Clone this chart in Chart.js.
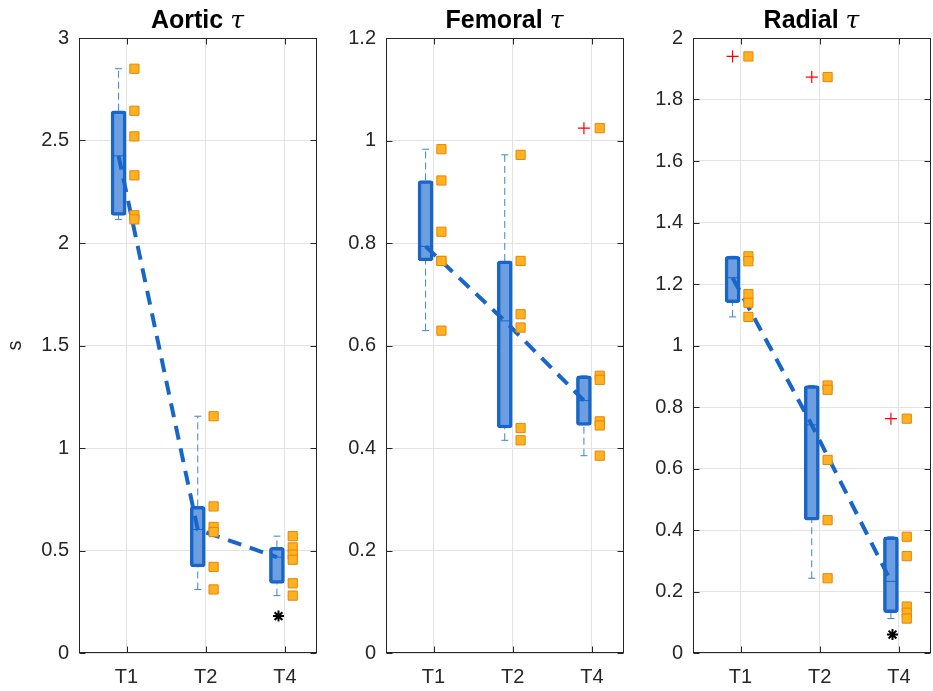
<!DOCTYPE html>
<html>
<head>
<meta charset="utf-8">
<script src="https://cdn.jsdelivr.net/npm/chart.js@4.4.1/dist/chart.umd.min.js"></script>
<style>
  body { margin: 0; background: #fff; width: 933px; height: 691px; overflow: hidden; position: relative; }
  canvas { position: absolute; top: 0; }
  .ttl { position: absolute; top: 5px; width: 237px; text-align: center; line-height: 30px;
         font: bold 25px "Liberation Sans", Arial, sans-serif; color: #000; }
  .ttl i { font: italic 25px "DejaVu Serif", serif; }
</style>
</head>
<body>
<canvas id="aortic" width="324" height="691" style="left:0px"></canvas>
<canvas id="femoral" width="324" height="691" style="left:307px"></canvas>
<canvas id="radial" width="324" height="691" style="left:614px"></canvas>
<div class="ttl" style="left:79px">Aortic <i>τ</i></div>
<div class="ttl" style="left:386px">Femoral <i>τ</i></div>
<div class="ttl" style="left:693px">Radial <i>τ</i></div>
<script>
const groups = ["T1", "T2", "T4"];

// individual values (s)
const aorticT1 = [2.85, 2.645, 2.52, 2.33, 2.135, 2.115];
const aorticT2 = [1.155, 0.715, 0.615, 0.59, 0.42, 0.31];
const aorticT4 = [0.57, 0.515, 0.48, 0.455, 0.34, 0.28];
const femoralT1 = [0.983, 0.922, 0.822, 0.765, 0.765, 0.629];
const femoralT2 = [0.972, 0.765, 0.661, 0.635, 0.439, 0.415];
const femoralT4 = [1.024, 0.541, 0.533, 0.452, 0.444, 0.385];
const radialT1 = [1.94, 1.29, 1.274, 1.167, 1.139, 1.093];
const radialT2 = [1.873, 0.87, 0.856, 0.628, 0.432, 0.243];
const radialT4 = [0.762, 0.378, 0.315, 0.151, 0.131, 0.112];

// significance marks (*) under a group, null = none
const aorticStars = [null, null, 0.18];
const femoralStars = [null, null, null];
const radialStars = [null, null, 0.06];

const boxEdge = "#1866c9";
const boxFill = "#6d9fe0";
const whiskerCol = "#3b83dc";

// MATLAB style quantile
function quantile(sorted, p) {
  const n = sorted.length;
  const pos = n * p + 0.5;
  if (pos <= 1) return sorted[0];
  if (pos >= n) return sorted[n - 1];
  const lo = Math.floor(pos), f = pos - lo;
  return sorted[lo - 1] + f * (sorted[lo] - sorted[lo - 1]);
}

function boxStats(vals) {
  const s = vals.slice().sort((a, b) => a - b);
  const q1 = quantile(s, 0.25), med = quantile(s, 0.5), q3 = quantile(s, 0.75);
  const iqr = q3 - q1;
  const inside = s.filter(v => v >= q1 - 1.5 * iqr && v <= q3 + 1.5 * iqr);
  return {
    q1, med, q3,
    lo: inside[0], hi: inside[inside.length - 1],
    out: s.filter(v => v < q1 - 1.5 * iqr || v > q3 + 1.5 * iqr)
  };
}

const framePlugin = {
  id: "frame",
  afterDraw(chart) {
    const { ctx, chartArea: a, scales } = chart;
    const l = Math.round(a.left) + 0.5, r = Math.round(a.right) - 0.5;
    const t = Math.round(a.top) + 0.5, b = Math.round(a.bottom) - 0.5;
    ctx.save();
    ctx.strokeStyle = "#262626";
    ctx.lineWidth = 1;
    ctx.strokeRect(l, t, r - l, b - t);
    ctx.beginPath();
    scales.x.ticks.forEach((tk, i) => {
      const x = Math.round(scales.x.getPixelForTick(i)) + 0.5;
      ctx.moveTo(x, b); ctx.lineTo(x, b - 6);
      ctx.moveTo(x, t); ctx.lineTo(x, t + 6);
    });
    scales.y.ticks.forEach((tk, i) => {
      const y = Math.round(scales.y.getPixelForTick(i)) + 0.5;
      ctx.moveTo(l, y); ctx.lineTo(l + 6, y);
      ctx.moveTo(r, y); ctx.lineTo(r - 6, y);
    });
    ctx.stroke();
    ctx.restore();
  }
};

function makePanel(id, series, yMax, yStep, stars, yTitle) {
  const stats = series.map(boxStats);
  const bx = i => i + 1 - 0.1;   // box position
  const px = i => i + 1 + 0.1;   // raw points position

  new Chart(document.getElementById(id), {
    type: "bar",
    data: {
      datasets: [
        {
          type: "line",
          data: stats.flatMap((s, i) => [
            { x: bx(i), y: s.lo }, { x: bx(i), y: s.q1 }, { x: bx(i), y: null },
            { x: bx(i), y: s.q3 }, { x: bx(i), y: s.hi }, { x: bx(i), y: null }
          ]),
          borderColor: whiskerCol,
          borderWidth: 1,
          borderDash: [7, 4],
          pointRadius: 0,
          spanGaps: false,
          order: 6
        },
        {
          type: "scatter",
          data: stats.flatMap((s, i) => [{ x: bx(i), y: s.lo }, { x: bx(i), y: s.hi }]),
          pointStyle: "line",
          pointRadius: 3.5,
          borderColor: whiskerCol,
          borderWidth: 1,
          order: 6
        },
        {
          type: "bar",
          data: stats.map((s, i) => ({ x: bx(i), y: [s.q1, s.q3] })),
          backgroundColor: boxFill,
          borderColor: boxEdge,
          borderWidth: 3.5,
          borderSkipped: false,
          borderRadius: 3,
          barThickness: 15,
          order: 5
        },
        {
          type: "line",
          data: stats.flatMap((s, i) => [
            { x: bx(i) - 0.08, y: s.med }, { x: bx(i) + 0.08, y: s.med }, { x: bx(i), y: null }
          ]),
          borderColor: boxEdge,
          borderWidth: 1,
          pointRadius: 0,
          spanGaps: false,
          order: 4
        },
        {
          type: "line",
          data: stats.map((s, i) => ({ x: bx(i), y: s.med })),
          borderColor: boxEdge,
          borderWidth: 4,
          borderDash: [14, 9],
          pointRadius: 0,
          order: 3
        },
        {
          type: "scatter",
          data: series.flatMap((vals, i) => vals.map(v => ({ x: px(i), y: v }))),
          pointStyle: "rect",
          pointRadius: 6.5,
          backgroundColor: "#ffb120",
          borderColor: "#e5850a",
          borderWidth: 1,
          order: 2
        },
        {
          type: "scatter",
          data: stats.flatMap((s, i) => s.out.map(v => ({ x: bx(i), y: v }))),
          pointStyle: "cross",
          pointRadius: 6,
          borderColor: "#ff0000",
          borderWidth: 1.2,
          order: 1
        },
        {
          type: "scatter",
          data: stars.map((v, i) => ({ x: bx(i) + 0.02, y: v })).filter(p => p.y !== null),
          pointStyle: "star",
          pointRadius: 5.5,
          borderColor: "#000",
          borderWidth: 2,
          order: 1
        }
      ]
    },
    options: {
      responsive: false,
      devicePixelRatio: 1,
      animation: false,
      events: [],
      layout: { padding: { top: 38, right: 3, left: 0, bottom: 0 } },
      scales: {
        x: {
          type: "linear",
          min: 0.4,
          max: 3.4,
          offset: false,
          afterBuildTicks: s => { s.ticks = groups.map((g, i) => ({ value: i + 1 })); },
          afterFit: s => { s.height = 38; s.paddingLeft = 0; s.paddingRight = 0; },
          ticks: {
            callback: (v, i) => groups[i],
            font: { family: "Liberation Sans", size: 20 },
            color: "#262626",
            padding: 12,
            maxRotation: 0
          },
          grid: { color: "#e3e3e3", drawTicks: false, offset: false },
          border: { display: false }
        },
        y: {
          type: "linear",
          min: 0,
          max: yMax,
          afterFit: s => { s.width = 79; s.paddingTop = 0; s.paddingBottom = 0; },
          ticks: {
            stepSize: yStep,
            callback: v => String(+v.toFixed(3)),
            font: { family: "Liberation Sans", size: 20 },
            color: "#262626",
            padding: 10
          },
          title: {
            display: yTitle,
            text: "s",
            font: { family: "Liberation Sans", size: 20 },
            color: "#262626",
            padding: { top: 3, bottom: 0 }
          },
          grid: { color: "#e3e3e3", drawTicks: false },
          border: { display: false }
        }
      },
      plugins: {
        legend: { display: false },
        tooltip: { enabled: false }
      }
    },
    plugins: [framePlugin]
  });
}

makePanel("aortic", [aorticT1, aorticT2, aorticT4], 3, 0.5, aorticStars, true);
makePanel("femoral", [femoralT1, femoralT2, femoralT4], 1.2, 0.2, femoralStars, false);
makePanel("radial", [radialT1, radialT2, radialT4], 2, 0.2, radialStars, false);
</script>
</body>
</html>
